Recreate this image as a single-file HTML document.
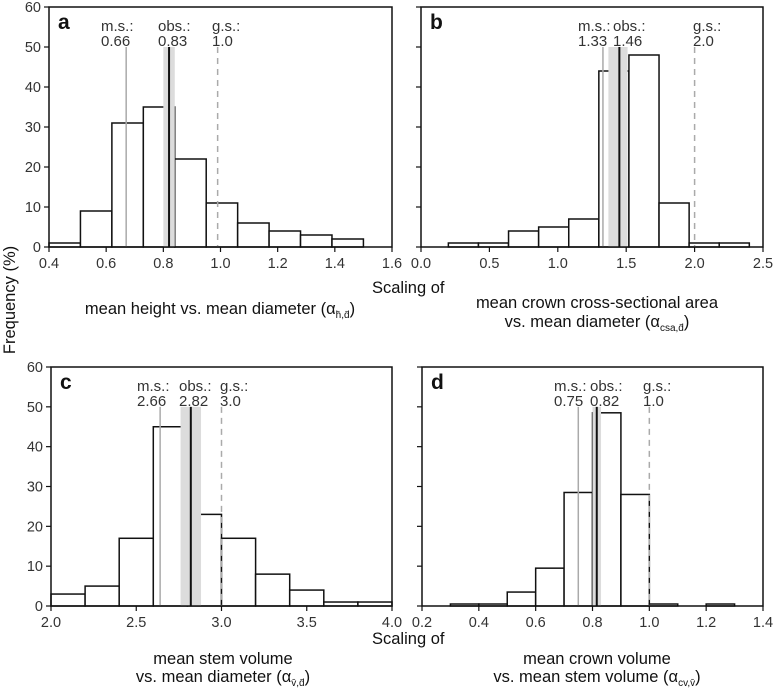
<!DOCTYPE html>
<html><head><meta charset="utf-8"><style>
body{margin:0;background:#fff}
svg{display:block;font-family:"Liberation Sans",Arial,sans-serif}
</style></head><body>
<svg id="chart" width="777" height="688" viewBox="0 0 777 688" xmlns="http://www.w3.org/2000/svg">
<text transform="translate(15,300) rotate(-90)" text-anchor="middle" font-size="16.5" fill="#111">Frequency (%)</text>
<text x="372" y="293" font-size="16.5" fill="#111">Scaling of</text>
<text x="372" y="644" font-size="16.5" fill="#111">Scaling of</text>
<text x="220" y="314" text-anchor="middle" font-size="16.5" fill="#111">mean height vs. mean diameter (α<tspan font-size="10" dy="4">h̄,d̄</tspan><tspan dy="-4">)</tspan></text>
<text x="597" y="308" text-anchor="middle" font-size="16.5" fill="#111">mean crown cross-sectional area</text>
<text x="597" y="327" text-anchor="middle" font-size="16.5" fill="#111">vs. mean diameter (α<tspan font-size="10" dy="4">csa,d̄</tspan><tspan dy="-4">)</tspan></text>
<text x="223" y="664" text-anchor="middle" font-size="16.5" fill="#111">mean stem volume</text>
<text x="223" y="682" text-anchor="middle" font-size="16.5" fill="#111">vs. mean diameter (α<tspan font-size="10" dy="4">v̄,d̄</tspan><tspan dy="-4">)</tspan></text>
<text x="597" y="664" text-anchor="middle" font-size="16.5" fill="#111">mean crown volume</text>
<text x="597" y="682" text-anchor="middle" font-size="16.5" fill="#111">vs. mean stem volume (α<tspan font-size="10" dy="4">cv,v̄</tspan><tspan dy="-4">)</tspan></text>
</svg>
<script>
// Panel a
const aEdges=[0.4,0.51,0.62,0.73,0.84,0.95,1.06,1.17,1.28,1.39,1.5];
const aFreq=[1,9,31,35,22,11,6,4,3,2];
const aTicks=[0.4,0.6,0.8,1.0,1.2,1.4,1.6];
const aRefs=[0.67,0.82,0.99];
const aBand=[0.80,0.84];
const aValues=["0.66","0.83","1.0"];
// Panel b
const bEdges=[0.2,0.42,0.64,0.86,1.08,1.3,1.52,1.74,1.96,2.18,2.4];
const bFreq=[1,1,4,5,7,44,48,11,1,1];
const bTicks=[0.0,0.5,1.0,1.5,2.0,2.5];
const bRefs=[1.33,1.45,2.0];
const bBand=[1.37,1.51];
const bValues=["1.33","1.46","2.0"];
// Panel c
const cEdges=[2.0,2.2,2.4,2.6,2.8,3.0,3.2,3.4,3.6,3.8,4.0];
const cFreq=[3,5,17,45,23,17,8,4,1,1];
const cTicks=[2.0,2.5,3.0,3.5,4.0];
const cRefs=[2.64,2.82,3.0];
const cBand=[2.76,2.88];
const cValues=["2.66","2.82","3.0"];
// Panel d
const dEdges=[0.3,0.4,0.5,0.6,0.7,0.8,0.9,1.0,1.1,1.2,1.3];
const dFreq=[0.5,0.5,3.5,9.5,28.5,48.5,28,0.5,0,0.5];
const dTicks=[0.2,0.4,0.6,0.8,1.0,1.2,1.4];
const dRefs=[0.75,0.815,1.0];
const dBand=[0.80,0.83];
const dValues=["0.75","0.82","1.0"];
const yTicks=[0,10,20,30,40,50,60];

const NS="http://www.w3.org/2000/svg";
const svg=document.getElementById('chart');
function mk(tag,attrs,parent){const e=document.createElementNS(NS,tag);for(const k in attrs)e.setAttribute(k,attrs[k]);(parent||svg).appendChild(e);return e;}

function panel(id,box,xmin,xmax,edges,freq,xt,refs,band,vals,yLabels,labelX){
  const g=mk('g',{});
  
  
  const X=v=>box.l+(v-xmin)/(xmax-xmin)*(box.r-box.l);
  const Y=v=>box.b-v/60*(box.b-box.t);
  for(let i=0;i<freq.length;i++){
    if(freq[i]<=0)continue;
    const r=mk('rect',{x:X(edges[i]),y:Y(freq[i]),width:X(edges[i+1])-X(edges[i]),height:Y(0)-Y(freq[i]),fill:'#fff',stroke:'#111','stroke-width':1.5},g);
    
    
  }
  const bd=mk('rect',{x:X(band[0]),y:Y(50),width:X(band[1])-X(band[0]),height:Y(0)-Y(50),fill:'#dcdcdc'},g);
  
  
  const ms=mk('line',{x1:X(refs[0]),x2:X(refs[0]),y1:Y(50),y2:Y(0),stroke:'#aaa','stroke-width':1.5},g);
  
  
  const ob=mk('line',{x1:X(refs[1]),x2:X(refs[1]),y1:Y(50),y2:Y(0),stroke:'#111','stroke-width':2},g);
  
  
  const gs=mk('line',{x1:X(refs[2]),x2:X(refs[2]),y1:Y(50),y2:Y(0),stroke:'#aaa','stroke-width':1.5,'stroke-dasharray':'6,5'},g);
  
  
  const fr=mk('rect',{x:box.l,y:box.t,width:box.r-box.l,height:box.b-box.t,fill:'none',stroke:'#111','stroke-width':1.5},g);
  
  
  yTicks.forEach(v=>{
    mk('line',{x1:box.l-5,x2:box.l,y1:Y(v),y2:Y(v),stroke:'#111','stroke-width':1.2},g);
    if(yLabels){const t=mk('text',{x:box.l-8,y:Y(v)+5,'text-anchor':'end','font-size':14.5,fill:'#333'},g);t.textContent=v;
      
      }
  });
  xt.forEach(v=>{
    mk('line',{x1:X(v),x2:X(v),y1:box.b,y2:box.b+5,stroke:'#111','stroke-width':1.2},g);
    const t=mk('text',{x:X(v),y:box.b+21,'text-anchor':'middle','font-size':14.5,fill:'#333'},g);t.textContent=v.toFixed(1);
    
    
  });
  const pl=mk('text',{x:box.l+9,y:box.t+22,'font-size':21,'font-weight':'bold',fill:'#111'},g);pl.textContent=id;
  
  
  const names=["m.s.:","obs.:","g.s.:"];
  for(let i=0;i<3;i++){
    const lx=labelX[i];
    const t1=mk('text',{x:lx,y:box.t+24,'font-size':15,fill:'#333'},g);t1.textContent=names[i];
    
    
    const t2=mk('text',{x:lx,y:box.t+39,'font-size':15,fill:'#333'},g);t2.textContent=vals[i];
    
    
  }
}
panel('a',{l:49,r:392,t:7,b:247},0.4,1.6,aEdges,aFreq,aTicks,aRefs,aBand,aValues,true,[101,158,212]);
panel('b',{l:421,r:763,t:7,b:247},0,2.5,bEdges,bFreq,bTicks,bRefs,bBand,bValues,false,[578,613,693]);
panel('c',{l:51,r:392,t:367,b:606},2.0,4.0,cEdges,cFreq,cTicks,cRefs,cBand,cValues,true,[137,179,220]);
panel('d',{l:422,r:763,t:367,b:606},0.2,1.4,dEdges,dFreq,dTicks,dRefs,dBand,dValues,false,[554,590,643]);
</script>
</body></html>
